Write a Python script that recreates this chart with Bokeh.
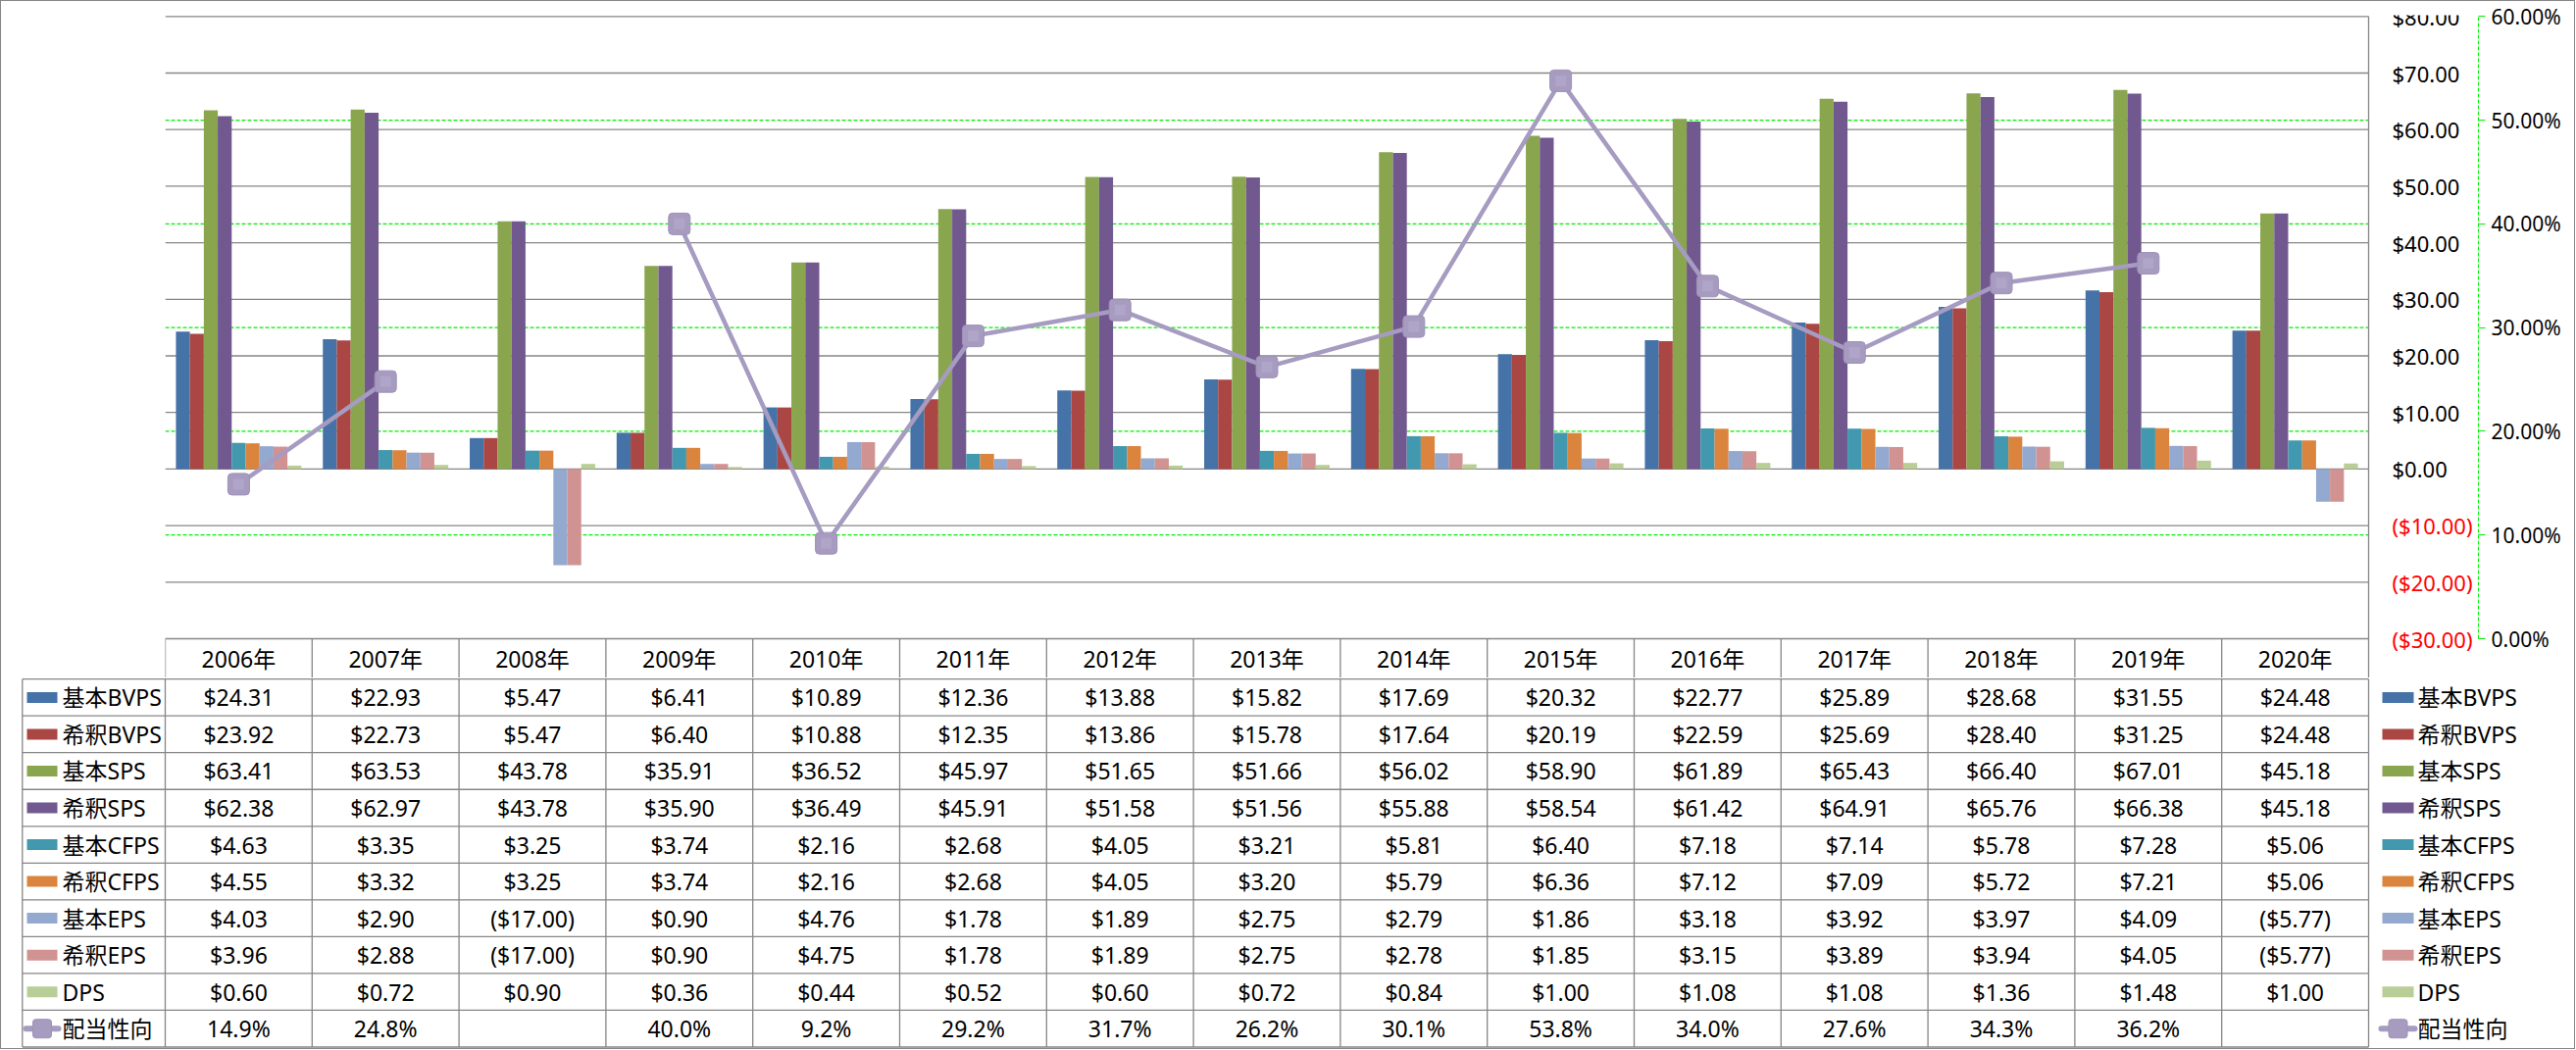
from bokeh.plotting import figure
from bokeh.models import Range1d, LinearAxis, FixedTicker, NumeralTickFormatter
from bokeh.layouts import column
from bokeh.core.properties import value
from bokeh.embed import file_html
from bokeh.resources import INLINE

# ---------------- data ----------------
years = ["2006年", "2007年", "2008年", "2009年", "2010年", "2011年", "2012年", "2013年",
         "2014年", "2015年", "2016年", "2017年", "2018年", "2019年", "2020年"]

basic_bvps = [24.31, 22.93, 5.47, 6.41, 10.89, 12.36, 13.88, 15.82, 17.69, 20.32, 22.77, 25.89, 28.68, 31.55, 24.48]
dil_bvps = [23.92, 22.73, 5.47, 6.40, 10.88, 12.35, 13.86, 15.78, 17.64, 20.19, 22.59, 25.69, 28.40, 31.25, 24.48]
basic_sps = [63.41, 63.53, 43.78, 35.91, 36.52, 45.97, 51.65, 51.66, 56.02, 58.90, 61.89, 65.43, 66.40, 67.01, 45.18]
dil_sps = [62.38, 62.97, 43.78, 35.90, 36.49, 45.91, 51.58, 51.56, 55.88, 58.54, 61.42, 64.91, 65.76, 66.38, 45.18]
basic_cfps = [4.63, 3.35, 3.25, 3.74, 2.16, 2.68, 4.05, 3.21, 5.81, 6.40, 7.18, 7.14, 5.78, 7.28, 5.06]
dil_cfps = [4.55, 3.32, 3.25, 3.74, 2.16, 2.68, 4.05, 3.20, 5.79, 6.36, 7.12, 7.09, 5.72, 7.21, 5.06]
basic_eps = [4.03, 2.90, -17.00, 0.90, 4.76, 1.78, 1.89, 2.75, 2.79, 1.86, 3.18, 3.92, 3.97, 4.09, -5.77]
dil_eps = [3.96, 2.88, -17.00, 0.90, 4.75, 1.78, 1.89, 2.75, 2.78, 1.85, 3.15, 3.89, 3.94, 4.05, -5.77]
dps = [0.60, 0.72, 0.90, 0.36, 0.44, 0.52, 0.60, 0.72, 0.84, 1.00, 1.08, 1.08, 1.36, 1.48, 1.00]
payout = [14.9, 24.8, None, 40.0, 9.2, 29.2, 31.7, 26.2, 30.1, 53.8, 34.0, 27.6, 34.3, 36.2, None]

bar_names = ["基本BVPS", "希釈BVPS", "基本SPS", "希釈SPS", "基本CFPS", "希釈CFPS", "基本EPS", "希釈EPS", "DPS"]
bar_values = [basic_bvps, dil_bvps, basic_sps, dil_sps, basic_cfps, dil_cfps, basic_eps, dil_eps, dps]
bar_colors = ["#4572A7", "#AA4643", "#89A54E", "#71588F", "#4198AF", "#DB843D", "#93A9CF", "#D19392", "#B9CD96"]
line_name = "配当性向"
line_color = "#A69BC0"

usd_ticks = [-30, -20, -10, 0, 10, 20, 30, 40, 50, 60, 70, 80]
pct_ticks = [0.0, 0.1, 0.2, 0.3, 0.4, 0.5, 0.6]

# ---------------- styling / geometry ----------------
FONT = "'Noto Sans', 'Noto Sans CJK JP'"
FS_AXIS = "22px"
FS_AXIS2 = "21px"
FS_TAB = "23px"
GRID = "#868686"
GREEN = "#00EE00"
N = len(years)

W = 2624
FRAME_L = 167
FRAME_R = 2526
UNIT = (2414.0 - FRAME_L) / N          # pixels per category
PXU = (650.0 - 15.3) / 110.0           # pixels per dollar
TOP_H = 690
TOP_B = 14
USD_TOP = 80 + (15.3 - TOP_B) / PXU
USD_BOT = USD_TOP - (TOP_H - TOP_B) / PXU
TAB_H = 378
BW = 0.0949


def usd2pct(u):
    return (u + 30.0) / 110.0 * 0.6


def px2x(px):
    return (px - FRAME_L) / UNIT


def no_align(fig):
    if "frame_align" in fig.properties():
        fig.frame_align = False


# ---------------- chart (with header row of the data table) ----------------
p = figure(width=W, height=TOP_H, output_backend="svg", toolbar_location=None,
           x_range=Range1d(0, (FRAME_R - FRAME_L) / UNIT), y_range=Range1d(USD_BOT, USD_TOP),
           x_axis_location=None, y_axis_location=None,
           min_border_left=FRAME_L, min_border_right=W - FRAME_R, min_border_top=TOP_B,
           min_border_bottom=0)
p.outline_line_color = None
p.grid.visible = False
no_align(p)
p.extra_y_ranges = {"pct": Range1d(usd2pct(USD_BOT), usd2pct(USD_TOP))}

ax2 = LinearAxis(y_range_name="pct", ticker=FixedTicker(ticks=pct_ticks),
                 formatter=NumeralTickFormatter(format="0.00%"), bounds=(0, 0.6))
ax2.axis_line_color = GREEN
ax2.axis_line_dash = "4 2"
ax2.axis_line_width = 1
ax2.major_tick_line_color = GREEN
ax2.major_tick_in = 0
ax2.major_tick_out = 7
ax2.minor_tick_line_color = None
ax2.major_label_standoff = 6
ax2.axis_label_standoff = 0
ax2.major_label_text_font = FONT
ax2.major_label_text_font_size = FS_AXIS2
ax2.major_label_text_color = "#000000"
p.add_layout(ax2, "right")

# gridlines (the -30 line is also the top of the table header)
p.segment(x0=[0] * len(usd_ticks), x1=[N] * len(usd_ticks), y0=usd_ticks, y1=usd_ticks,
          line_color=GRID, line_width=1.3)
grid_pct = [t for t in pct_ticks if 0 < t < 0.6]
p.segment(x0=[0] * len(grid_pct), x1=[N] * len(grid_pct), y0=grid_pct, y1=grid_pct,
          y_range_name="pct", line_color=GREEN, line_width=1.2, line_dash="4 2")
# right border of plot + header cell borders
p.segment(x0=[N], x1=[N], y0=[usd_ticks[-1]], y1=[USD_BOT], line_color=GRID, line_width=1.3)
hx = list(range(N))
p.segment(x0=hx, x1=hx, y0=[usd_ticks[0]] * N, y1=[USD_BOT] * N, line_color=GRID, line_width=1.3)

# primary value axis labels (right side, negatives in red)
p.text(x=[N + 24.0 / UNIT] * len(usd_ticks), y=usd_ticks,
       text=["($%.2f)" % abs(t) if t < 0 else "$%.2f" % t for t in usd_ticks],
       text_color=["#FF0000" if t < 0 else "#000000" for t in usd_ticks],
       text_font=value(FONT), text_font_size=FS_AXIS, text_align="left", text_baseline="middle")

# bars
for j, (vals, col) in enumerate(zip(bar_values, bar_colors)):
    xs = [i + 0.5 + (j - 4) * BW for i in range(N)]
    p.vbar(x=xs, top=vals, bottom=0, width=BW, fill_color=col, line_color=None)

# payout ratio line
lx = [i + 0.5 for i in range(N)]
ly = [v / 100.0 if v is not None else float("nan") for v in payout]
p.line(x=lx, y=ly, y_range_name="pct", line_color=line_color, line_width=4.5)
p.rect(x=lx, y=ly, width=22, height=22, width_units="screen", height_units="screen",
       border_radius=4, fill_color="#A79BBF", line_color="#9D91B8", line_width=1,
       y_range_name="pct")
p.rect(x=lx, y=ly, width=11, height=11, width_units="screen", height_units="screen",
       fill_color="#AFA5C8", line_color=None, y_range_name="pct")

txt = dict(text_font=value(FONT), text_font_size=FS_TAB, text_color="#000000", text_baseline="middle")

# table header (years)
p.text(x=lx, y=[usd_ticks[0] - 20.0 / PXU] * N, text=years, text_align="center", **txt)

# ---------------- data table body ----------------
NROW = len(bar_names) + 1
tb = figure(width=W, height=TAB_H, output_backend="svg", toolbar_location=None,
            x_range=Range1d(-FRAME_L / UNIT, (W - FRAME_L) / UNIT),
            y_range=Range1d(NROW + 0.04, -0.03),
            x_axis_location=None, y_axis_location=None, min_border=0)
tb.outline_line_color = None
tb.grid.visible = False
no_align(tb)

XL = px2x(21.3)
hy = list(range(NROW + 1))
tb.segment(x0=[XL] * len(hy), x1=[N] * len(hy), y0=hy, y1=hy, line_color=GRID, line_width=1.3)
vx = list(range(N + 1)) + [XL]
tb.segment(x0=vx, x1=vx, y0=[0] * len(vx), y1=[NROW] * len(vx), line_color=GRID, line_width=1.3)


def fmt_usd(v):
    return "($%.2f)" % abs(v) if v < 0 else "$%.2f" % v


row_y = [k + 0.5 for k in range(NROW)]
for k, vals in enumerate(bar_values):
    tb.text(x=lx, y=[row_y[k]] * N, text=[fmt_usd(v) for v in vals], text_align="center", **txt)
tb.text(x=lx, y=[row_y[-1]] * N,
        text=["%.1f%%" % v if v is not None else "" for v in payout], text_align="center", **txt)

all_names = bar_names + [line_name]
# legend keys in the table (left) and the legend on the right
for key_x0, key_x1, text_x in [(26, 57, 62), (2428, 2460, 2464)]:
    cx = px2x((key_x0 + key_x1) / 2.0)
    for k, col in enumerate(bar_colors):
        tb.rect(x=[cx], y=[row_y[k]], width=key_x1 - key_x0, height=11,
                width_units="screen", height_units="screen", fill_color=col, line_color=None)
    tb.segment(x0=[px2x(key_x0 - 1)], x1=[px2x(key_x1 + 1)], y0=[row_y[-1]], y1=[row_y[-1]],
               line_color=line_color, line_width=6, line_cap="round")
    tb.rect(x=[cx], y=[row_y[-1]], width=19, height=19, width_units="screen", height_units="screen",
            border_radius=3, fill_color="#A79BBF", line_color="#9D91B8", line_width=1)
    tb.text(x=[px2x(text_x)] * NROW, y=row_y, text=all_names, text_align="left", **txt)

layout = column(p, tb, styles={"border": "1px solid #868686"})

with open("out.html", "w", encoding="utf-8") as f:
    f.write(file_html(layout, INLINE))
